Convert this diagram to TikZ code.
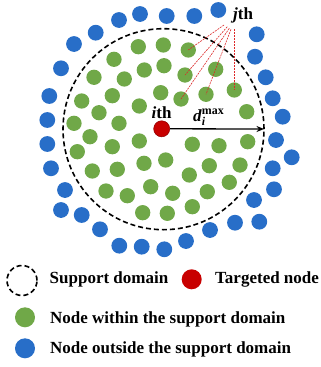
\documentclass[tikz,border=0pt]{standalone}
\usepackage{amsmath}
\usepackage{fontspec}
\setmainfont{Liberation Serif}
\usetikzlibrary{arrows.meta}
\definecolor{dotblue}{RGB}{40,110,200}
\definecolor{dotgreen}{RGB}{112,168,72}
\definecolor{dotred}{RGB}{200,0,0}
\definecolor{dotredline}{RGB}{150,0,0}
\definecolor{jline}{RGB}{220,40,40}
\tikzset{
  bdot/.style={circle,fill=dotblue,inner sep=0pt,minimum size=15.8pt},
  gdot/.style={circle,fill=dotgreen,inner sep=0pt,minimum size=15.3pt},
  rdot/.style={circle,fill=dotred,draw=dotredline,line width=0.6pt,inner sep=0pt,minimum size=16pt},
  sdline/.style={draw=black,line width=1.6pt,dash pattern=on 5pt off 3pt},
  lbl/.style={inner sep=0pt,font=\fontsize{17}{20}\selectfont\bfseries},
  jlink/.style={draw=jline,line width=0.6pt,dash pattern=on 2pt off 1pt},
}
\begin{document}
\begin{tikzpicture}[x=1pt,y=-1pt]
\useasboundingbox (0,0) rectangle (321,367);
% support domain
\node[sdline,circle,inner sep=0pt,minimum size=201pt] (sd) at (163.5,129.2) {};
% blue nodes (outside)
\foreach \x/\y [count=\i] in {119/20,140/14,166.7/16,194.3/16,218.3/10,95.7/32.7,74/44,61/68.3,49.3/96,47.3/120,47.3/144,51/168.3,65/190,61/210,81.7/215,100/229.3,119.3/245.7,141.7/246.7,164.3/249.3,186/241,210/230,235/222.7,259.3/221.7,254/200,274/189.3,272.7/168.3,291.7/157.3,276/140,282.7/116.7,272.7/98.3,265.7/77.3,255/56.7,256.7/34.3}
  \node[bdot] (b\i) at (\x,\y) {};
% green nodes (inside)
\foreach \x/\y [count=\i] in {138.3/46.7,163.3/45,188.3/50,114/59.3,144.3/70,164/65.7,185/75,215.7/69.3,94/77.3,124.3/79,160.7/92.7,181/99,206/94.3,234.3/90,112.3/95.7,81.7/101,139.3/106,246.7/111.7,99/112.7,74/123.3,119/123.3,90/136.7,139.3/141,192.3/144.3,219/145.7,247.7/141.7,77.3/151.7,112.3/146.7,144/163.3,165.7/160,92.3/171,117.3/169.3,189.3/175,209.3/165.7,240/165,106/191,127.3/195.7,150.7/186.7,172.7/193.3,207.3/191.7,229.3/182.3,142.7/212.7,167.3/213.3,192.3/206.7}
  \node[gdot] (g\i) at (\x,\y) {};
% targeted node
\node[rdot] (ri) at (161.7,128.8) {};
\coordinate (rend) at (264,129);
\draw[line width=1.3pt,-{Stealth[length=7.5pt,width=6pt]}] (ri.east) -- (rend);
% labels
\node[lbl,anchor=base west] (ith) at (151.5,118.3) {\textit{i}th};
\node[lbl,anchor=base west] (dmax) at (193,121.5) {$\textbf{\textit{d}}_{\textbf{\textit{i}}}^{\textbf{max}}$};
\node[lbl,anchor=base west] (jth) at (233,19.5) {\textit{j}th};
% j links
\coordinate (j1) at (224,25);
\coordinate (j2) at (227.3,26.7);
\coordinate (j3) at (229.3,28.3);
\coordinate (j4) at (231,29.3);
\coordinate (j5) at (234.3,29.3);
\draw[jlink] (j1) -- (g3.center);
\draw[jlink] (j2) -- (g7.center);
\draw[jlink] (j3) -- (g12.center);
\draw[jlink] (j4) -- (g13.center);
\draw[jlink] (j5) -- (g14.center);
% legend
\node[sdline,circle,inner sep=0pt,minimum size=30pt] (lsd) at (22,280.5) {};
\node[lbl,anchor=base west] (tsd) at (49.5,283.5) {Support domain};
\node[circle,fill=dotred,inner sep=0pt,minimum size=20pt] (lr) at (191.7,279.3) {};
\node[lbl,anchor=base west] (tr) at (215,283.5) {Targeted node};
\node[circle,fill=dotgreen,inner sep=0pt,minimum size=20pt] (lg) at (25,317.3) {};
\node[lbl,anchor=base west] (tg) at (50,323.3) {Node within the support domain};
\node[circle,fill=dotblue,inner sep=0pt,minimum size=20pt] (lb) at (25,348.3) {};
\node[lbl,anchor=base west] (tb) at (50,353.3) {Node outside the support domain};
\end{tikzpicture}
\end{document}
